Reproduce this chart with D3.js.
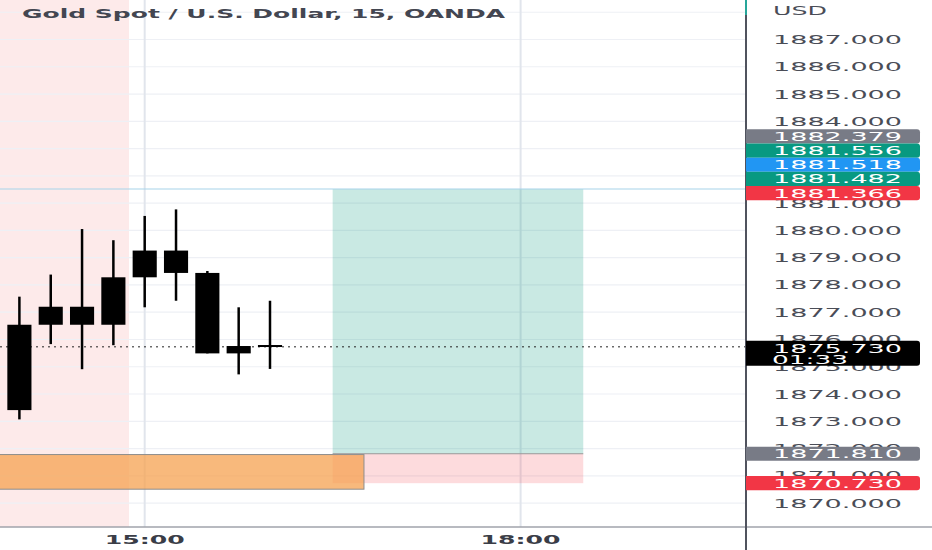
<!DOCTYPE html>
<html>
<head>
<meta charset="utf-8">
<script src="https://cdn.jsdelivr.net/npm/d3@7/dist/d3.min.js"></script>
<style>
html,body{margin:0;padding:0;background:#fff;}
svg{display:block;}
text{font-family:"DejaVu Sans",sans-serif;}
</style>
</head>
<body>
<svg id="chart" width="932" height="550"></svg>
<script>
// ---------- DATA ----------
const title = "Gold Spot / U.S. Dollar, 15, OANDA";
const currency = "USD";
const candleTimes = ["14:00","14:15","14:30","14:45","15:00","15:15","15:30","15:45","16:00"];
const openVals  = [1873.41, 1876.54, 1877.20, 1876.54, 1878.28, 1879.26, 1878.44, 1875.49, 1875.76];
const highVals  = [1877.57, 1878.38, 1880.05, 1879.64, 1880.53, 1880.77, 1878.51, 1877.18, 1877.42];
const lowVals   = [1873.07, 1875.83, 1874.91, 1875.79, 1877.18, 1877.42, 1875.49, 1874.72, 1874.92];
const closeVals = [1876.54, 1877.20, 1876.54, 1878.28, 1879.26, 1878.44, 1875.49, 1875.76, 1875.73];
const priceTicks = [1870,1871,1872,1873,1874,1875,1876,1877,1878,1879,1880,1881,1882,1883,1884,1885,1886,1887,1888];
const hiddenTickLabels = [1882, 1883];
const timeTicks = ["15:00","18:00"];
const currentPrice = 1875.73;
const countdown = "01:33";
// session shading (previous session, ends between bars)
const sessionRange = ["12:00","14:52:30"];
// orange zone
const zoneTimes = ["12:00","16:45"];
const zonePrices = [1870.51, 1871.78];
// long position tool
const positionTimes = ["16:30","18:30"];
const positionEntry = 1871.81;
const positionTarget = 1881.518;
const positionStop = 1870.73;
const levelLine = 1881.518;
// stacked price labels on axis (top group)
const topLabelValues = [1882.379, 1881.556, 1881.518, 1881.482, 1881.366];
const topLabelColors = ["#787b86", "#089981", "#2196f3", "#089981", "#f23645"];
const bottomLabelValues = [1871.810, 1870.730];
const bottomLabelColors = ["#787b86", "#f23645"];

// ---------- SETUP ----------
const W = 932, H = 550;
const plotRight = 745, plotBottom = 527;
const svg = d3.select("#chart");
const parseT = d3.timeParse("%H:%M:%S");
const pt = s => parseT(s.length === 5 ? s + ":00" : s);

const x = d3.scaleTime().domain([pt("14:00"), pt("18:00")]).range([19.4, 520.6]);
const y = d3.scaleLinear().domain([1870, 1887]).range([503.1, 39.5]);
const barStep = x(pt("14:15")) - x(pt("14:00"));

function stretch(sel, width) {
  sel.attr("textLength", width).attr("lengthAdjust", "spacingAndGlyphs");
}

const defs = svg.append("defs");
defs.append("clipPath").attr("id", "plotClip").append("rect")
  .attr("x", 0).attr("y", 0).attr("width", plotRight).attr("height", plotBottom);

const plot = svg.append("g").attr("clip-path", "url(#plotClip)");

// session shading
plot.append("rect")
  .attr("x", x(pt(sessionRange[0])))
  .attr("y", 0)
  .attr("width", x(pt(sessionRange[1])) - x(pt(sessionRange[0])))
  .attr("height", plotBottom)
  .attr("fill", "#fdeaea");

// horizontal grid
plot.append("g").selectAll("line").data(priceTicks).join("line")
  .attr("x1", 0).attr("x2", plotRight)
  .attr("y1", d => y(d)).attr("y2", d => y(d))
  .attr("stroke", "#eef0f5").attr("stroke-width", 1.2);

// vertical grid
plot.append("g").selectAll("line").data(timeTicks).join("line")
  .attr("x1", d => x(pt(d))).attr("x2", d => x(pt(d)))
  .attr("y1", 0).attr("y2", plotBottom)
  .attr("stroke", "#e1e5ec").attr("stroke-width", 2);

// position tool: target (green) and stop (red)
const px0 = x(pt(positionTimes[0])), px1 = x(pt(positionTimes[1]));
plot.append("rect")
  .attr("x", px0).attr("y", y(positionTarget))
  .attr("width", px1 - px0).attr("height", y(positionEntry) - y(positionTarget))
  .attr("fill", "rgba(8,153,129,0.22)");
plot.append("rect")
  .attr("x", px0).attr("y", y(positionEntry))
  .attr("width", px1 - px0).attr("height", y(positionStop) - y(positionEntry))
  .attr("fill", "rgba(242,54,69,0.18)");

// orange zone
const zx0 = x(pt(zoneTimes[0])), zx1 = x(pt(zoneTimes[1]));
plot.append("rect")
  .attr("x", zx0).attr("y", y(zonePrices[1]))
  .attr("width", zx1 - zx0).attr("height", y(zonePrices[0]) - y(zonePrices[1]))
  .attr("fill", "rgba(245,162,80,0.75)")
  .attr("stroke", "#8d8d8d").attr("stroke-width", 1);

// entry line of position tool
plot.append("line")
  .attr("x1", px0).attr("x2", px1)
  .attr("y1", y(positionEntry)).attr("y2", y(positionEntry))
  .attr("stroke", "#9a9a9a").attr("stroke-width", 1);

// level line (light blue)
plot.append("line")
  .attr("x1", 0).attr("x2", plotRight)
  .attr("y1", y(levelLine)).attr("y2", y(levelLine))
  .attr("stroke", "#a8d4ea").attr("stroke-width", 1.2);

// current price dotted line
plot.append("line")
  .attr("x1", 0).attr("x2", plotRight)
  .attr("y1", y(currentPrice)).attr("y2", y(currentPrice))
  .attr("stroke", "#222").attr("stroke-width", 1)
  .attr("stroke-dasharray", "2,4");

// candles
const candles = candleTimes.map((t, i) => ({t: pt(t), o: openVals[i], h: highVals[i], l: lowVals[i], c: closeVals[i]}));
const cg = plot.append("g");
cg.selectAll("line.wick").data(candles).join("line").attr("class", "wick")
  .attr("x1", d => x(d.t)).attr("x2", d => x(d.t))
  .attr("y1", d => y(d.h)).attr("y2", d => y(d.l))
  .attr("stroke", "#000").attr("stroke-width", 2.5);
const bodyW = barStep * 0.77;
cg.selectAll("rect.body").data(candles).join("rect").attr("class", "body")
  .attr("x", d => x(d.t) - bodyW / 2)
  .attr("width", bodyW)
  .attr("y", d => Math.min(y(d.o), y(d.c)) - (Math.abs(y(d.o) - y(d.c)) < 2 ? 1 : 0))
  .attr("height", d => Math.max(2, Math.abs(y(d.o) - y(d.c))))
  .attr("fill", "#000");

// ---------- TITLE ----------
svg.append("text")
  .attr("x", 22).attr("y", 17.5)
  .attr("font-size", 12.5).attr("font-weight", "bold")
  .attr("fill", "#434651")
  .text(title)
  .call(stretch, 483);

// ---------- PRICE AXIS ----------
svg.append("line")
  .attr("x1", 0).attr("x2", W)
  .attr("y1", plotBottom).attr("y2", plotBottom)
  .attr("stroke", "#a0a3ab").attr("stroke-width", 1.5);
svg.append("line")
  .attr("x1", plotRight + 1).attr("x2", plotRight + 1)
  .attr("y1", 0).attr("y2", H)
  .attr("stroke", "#50535e").attr("stroke-width", 2);
svg.append("line")
  .attr("x1", plotRight + 1).attr("x2", plotRight + 1)
  .attr("y1", 0).attr("y2", 15)
  .attr("stroke", "#26a69a").attr("stroke-width", 2);

const labelX = 773, labelW = 129;
svg.append("text")
  .attr("x", labelX).attr("y", 11).attr("dy", "0.35em")
  .attr("font-size", 12.5).attr("fill", "#4a4d57")
  .text(currency).call(stretch, 54);

const tickFmt = d3.format(".3f");
svg.append("g").selectAll("text")
  .data(priceTicks.filter(d => y(d) > 25 && y(d) < plotBottom - 10 && !hiddenTickLabels.includes(d)))
  .join("text")
  .attr("x", labelX).attr("y", d => y(d)).attr("dy", "0.36em")
  .attr("font-size", 12.5).attr("fill", "#4a4d57")
  .text(d => tickFmt(d))
  .call(stretch, labelW);

// price label boxes
const boxH = 14.2, boxX = plotRight + 1, boxW = 920 - boxX;
function boxPath(yTop, h) {
  const r = 3, x0 = boxX, x1 = boxX + boxW;
  return `M${x0},${yTop}H${x1 - r}Q${x1},${yTop} ${x1},${yTop + r}V${yTop + h - r}Q${x1},${yTop + h} ${x1 - r},${yTop + h}H${x0}Z`;
}
function drawLabels(values, colors) {
  const centers = [];
  let prev = null;
  for (let i = values.length - 1; i >= 0; i--) {
    let c = y(values[i]);
    if (prev !== null && c > prev - boxH) c = prev - boxH;
    centers[i] = c; prev = c;
  }
  const g = svg.append("g");
  values.forEach((v, i) => {
    g.append("path").attr("d", boxPath(centers[i] - boxH / 2, boxH)).attr("fill", colors[i]);
    g.append("text")
      .attr("x", labelX).attr("y", centers[i]).attr("dy", "0.36em")
      .attr("font-size", 12.5).attr("fill", "#fff")
      .text(tickFmt(v)).call(stretch, labelW);
  });
}
drawLabels(topLabelValues, topLabelColors);
drawLabels(bottomLabelValues, bottomLabelColors);

// current price label (two lines)
const cy = y(currentPrice);
svg.append("path").attr("d", boxPath(cy - 6, 25)).attr("fill", "#000");
svg.append("text")
  .attr("x", labelX).attr("y", cy + 1.6).attr("dy", "0.36em")
  .attr("font-size", 12.5).attr("fill", "#fff")
  .text(tickFmt(currentPrice)).call(stretch, labelW);
svg.append("text")
  .attr("x", labelX - 1).attr("y", cy + 12.3).attr("dy", "0.36em")
  .attr("font-size", 12.5).attr("fill", "#fff")
  .text(countdown).call(stretch, 76);

// ---------- TIME AXIS ----------
const timeFmt = d3.timeFormat("%H:%M");
svg.append("g").selectAll("text").data(timeTicks).join("text")
  .attr("x", d => x(pt(d))).attr("y", 539).attr("dy", "0.36em")
  .attr("text-anchor", "middle")
  .attr("font-size", 12.5).attr("font-weight", "bold").attr("fill", "#3a3d47")
  .text(d => timeFmt(pt(d)))
  .call(stretch, 80);
</script>
</body>
</html>
